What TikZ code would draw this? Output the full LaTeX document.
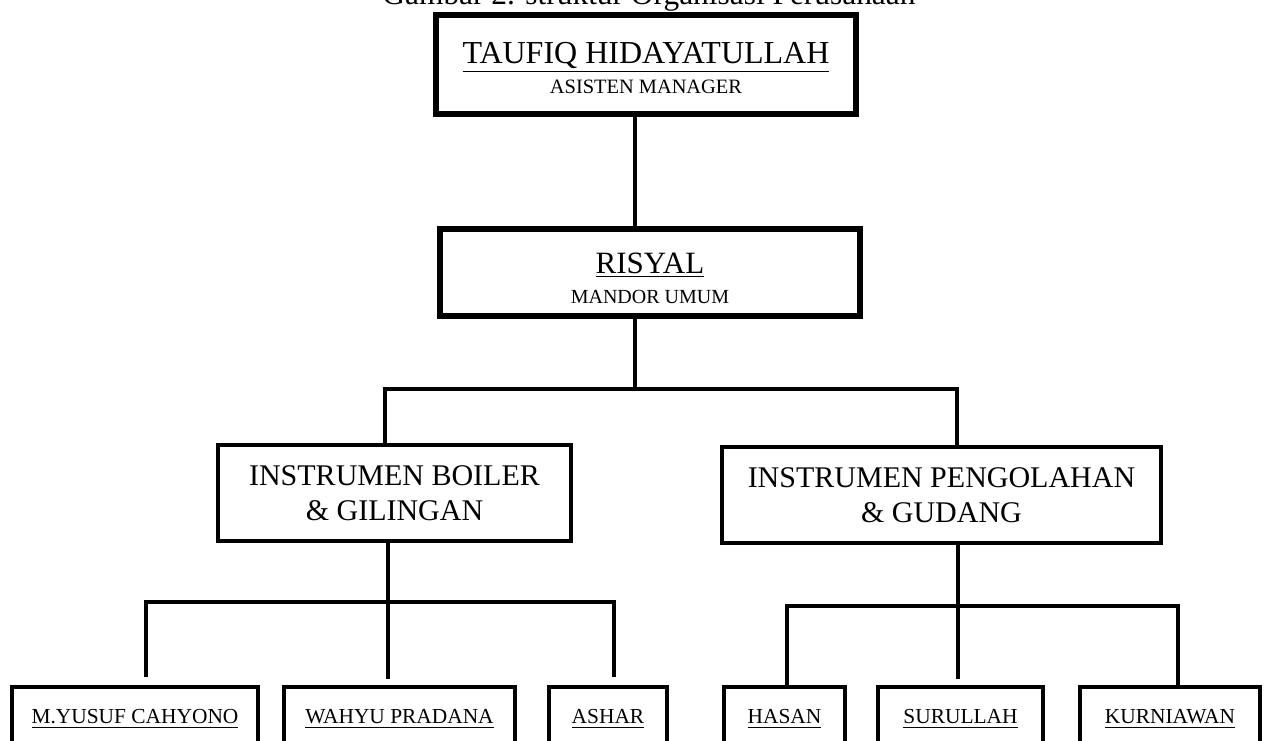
\documentclass[tikz,border=0pt]{standalone}
\usepackage{fontspec}
\setmainfont{Liberation Serif}
\usepackage{tikz}
\usetikzlibrary{positioning}

\tikzset{
  jabatan/.style={draw, rectangle, line width=2pt, inner sep=0pt, align=center},
  pimpinan/.style={jabatan, line width=3pt, font=\fontsize{10}{13.5}\selectfont},
  staf/.style={jabatan, minimum height=32.5pt, font=\fontsize{10.7}{12.8}\selectfont},
  garis/.style={line width=2pt}
}

\begin{document}
\begin{tikzpicture}[x=0.5pt, y=-0.5pt]
    \useasboundingbox (0,0) rectangle (1265,740);

    \node[anchor=base, font=\fontsize{15.7}{18}\selectfont] (judul) at (649,4) {Gambar 2. struktur Organisasi Perusahaan};

    \node[pimpinan, minimum width=210pt, minimum height=49.5pt] at (646,64.5) (taufiq)
        {{\fontsize{16}{19}\selectfont\rule{0pt}{14.5pt}\underline{TAUFIQ HIDAYATULLAH}}\\[1.5pt]{\fontsize{10.2}{13.5}\selectfont ASISTEN MANAGER}};
    \node[pimpinan, minimum width=210pt, minimum height=43.5pt] at (650,272.5) (risyal)
        {{\fontsize{15.5}{18}\selectfont\rule{0pt}{16pt}\underline{RISYAL}}\\[1.5pt]{\fontsize{10}{13.5}\selectfont MANDOR UMUM}};

    \node[jabatan, minimum width=176.5pt, minimum height=48pt, font=\fontsize{15}{17.5}\selectfont] at (394.5,493) (boiler)
        {INSTRUMEN BOILER\\\& GILINGAN};
    \node[jabatan, minimum width=219.5pt, minimum height=48pt, font=\fontsize{15}{17.5}\selectfont] at (941.5,495) (gudang)
        {INSTRUMEN PENGOLAHAN\\\& GUDANG};

    \node[staf, minimum width=123pt] at (135,719) (yusuf) {\underline{M.YUSUF CAHYONO}};
    \node[staf, minimum width=115.5pt] at (399.5,719) (wahyu) {\underline{WAHYU PRADANA}};
    \node[staf, minimum width=59pt] at (608,719) (ashar) {\underline{ASHAR}};
    \node[staf, minimum width=60.5pt] at (784.5,719) (hasan) {\underline{HASAN}};
    \node[staf, minimum width=82.5pt] at (960.5,719) (surullah) {\underline{SURULLAH}};
    \node[staf, minimum width=90pt] at (1170,719) (kurniawan) {\underline{KURNIAWAN}};

    \coordinate (pusat) at (635,389);
    \coordinate (cabangkiri) at (385,389);
    \coordinate (cabangkanan) at (957,389);
    \coordinate (kiri) at (388,602);
    \coordinate (kiriA) at (146,602);
    \coordinate (kiriC) at (614,602);
    \coordinate (kanan) at (958,606);
    \coordinate (kananA) at (787,606);
    \coordinate (kananC) at (1178,606);

    \draw[garis] (taufiq.south -| pusat) -- (risyal.north -| pusat);
    \draw[garis] (risyal.south -| pusat) -- (pusat);
    \draw[garis] (boiler.north -| cabangkiri) -- (cabangkiri) -- (cabangkanan) -- (gudang.north -| cabangkanan);

    \draw[garis] (boiler.south -| kiri) -- (kiri);
    \draw[garis, shorten <=4pt, shorten >=4pt] (yusuf.north -| kiriA) -- (kiriA) -- (kiriC) -- (ashar.north -| kiriC);
    \draw[garis, shorten >=3pt] (kiri) -- (wahyu.north -| kiri);

    \draw[garis] (gudang.south -| kanan) -- (kanan);
    \draw[garis, shorten >=-2pt] (hasan.north -| kananA) -- (kananA) -- (kananC) -- (kurniawan.north -| kananC);
    \draw[garis, shorten >=3pt] (kanan) -- (surullah.north -| kanan);
\end{tikzpicture}
\end{document}
